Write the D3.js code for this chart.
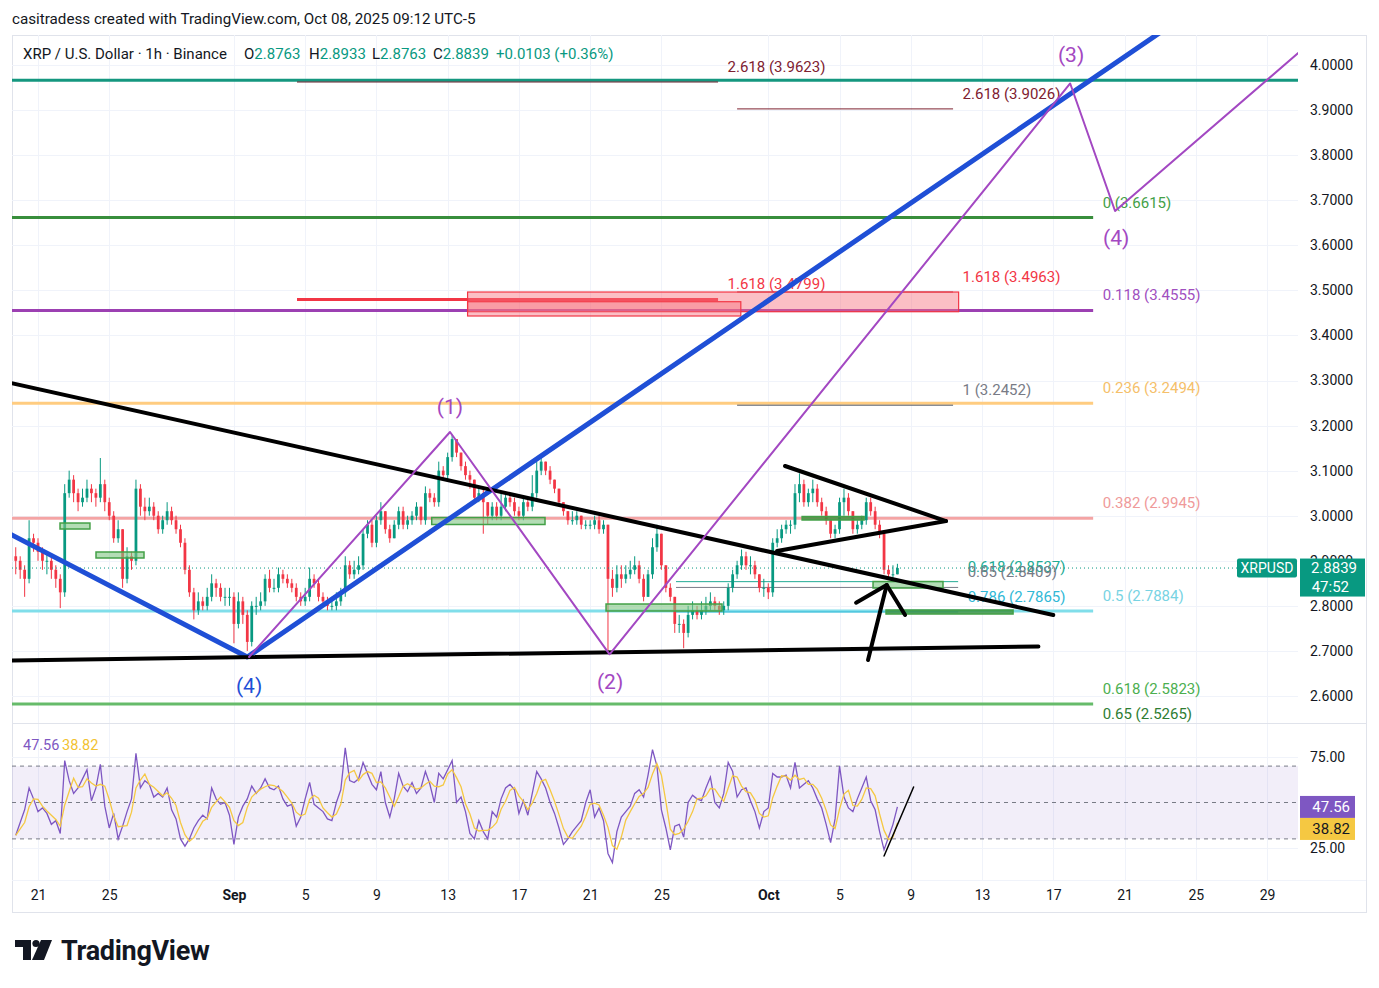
<!DOCTYPE html>
<html>
<head>
<meta charset="utf-8">
<script src="https://cdn.jsdelivr.net/npm/d3@7"></script>
<style>
  body { margin: 0; background: #ffffff; }
  svg { font-family: Roboto, "Liberation Sans", sans-serif; }
</style>
</head>
<body>
<svg id="chart" width="1379" height="988"></svg>
<script>
// ---- data (6h steps, starting Aug 19 18:00 UTC) ----
const candle_start = "2025-08-19T18:00";
const candle_hours = 6;
const first_open = 2.91;

const closes = [
  2.90,2.88,2.86,2.95,2.94,2.92,2.90,2.90,2.88,2.86,
  2.83,3.05,3.08,3.05,3.03,3.04,3.06,3.05,3.04,3.07,
  3.03,3.00,2.95,2.97,2.86,2.91,2.90,3.06,3.02,3.01,
  3.02,3.00,2.97,2.99,3.01,2.99,2.97,2.94,2.88,2.83,
  2.79,2.81,2.80,2.82,2.85,2.84,2.82,2.82,2.82,2.76,
  2.81,2.78,2.72,2.80,2.80,2.81,2.86,2.84,2.84,2.87,
  2.86,2.85,2.84,2.82,2.81,2.82,2.86,2.85,2.82,2.81,
  2.80,2.80,2.81,2.83,2.89,2.87,2.88,2.89,2.96,2.98,
  2.94,2.99,3.01,2.97,2.95,2.98,3.01,2.98,2.99,3.00,
  3.02,2.99,3.05,3.04,3.03,3.10,3.09,3.13,3.17,3.14,
  3.11,3.09,3.08,3.04,3.05,3.03,3.00,3.02,3.00,3.02,
  3.04,3.03,3.01,3.00,3.03,3.02,3.05,3.10,3.12,3.10,
  3.08,3.06,3.03,3.01,2.99,2.99,3.00,2.98,2.98,2.98,
  2.99,2.97,2.98,2.86,2.84,2.87,2.86,2.87,2.88,2.89,
  2.86,2.82,2.87,2.93,2.96,2.89,2.84,2.82,2.76,2.76,
  2.74,2.78,2.79,2.78,2.79,2.80,2.81,2.80,2.79,2.80,
  2.84,2.87,2.89,2.91,2.89,2.89,2.87,2.84,2.84,2.83,
  2.94,2.95,2.97,2.98,2.98,3.05,3.07,3.03,3.05,3.06,
  3.03,3.01,2.99,2.96,2.97,3.03,3.04,3.01,2.97,2.98,
  2.99,3.03,3.01,2.98,2.96,2.88,2.87,2.87,2.8839
];
const highs = [
  2.93,2.91,2.89,2.99,2.96,2.95,2.93,2.92,2.91,2.89,
  2.87,3.07,3.10,3.09,3.06,3.06,3.08,3.07,3.06,3.128,
  3.08,3.04,3.01,2.99,2.97,2.93,2.92,3.08,3.07,3.04,
  3.04,3.03,3.01,3.00,3.03,3.02,3.00,2.98,2.95,2.89,
  2.84,2.83,2.82,2.84,2.87,2.86,2.85,2.84,2.84,2.83,
  2.83,2.82,2.79,2.81,2.82,2.83,2.87,2.88,2.86,2.885,
  2.88,2.87,2.86,2.85,2.83,2.84,2.885,2.87,2.86,2.83,
  2.82,2.82,2.83,2.84,2.91,2.90,2.90,2.91,2.97,2.99,
  2.99,3.00,3.03,3.01,2.98,2.99,3.02,3.02,3.00,3.01,
  3.03,3.02,3.065,3.06,3.05,3.12,3.11,3.14,3.18,3.17,
  3.14,3.12,3.10,3.08,3.06,3.06,3.03,3.03,3.03,3.05,
  3.05,3.05,3.04,3.02,3.04,3.04,3.09,3.12,3.13,3.12,
  3.11,3.08,3.06,3.03,3.01,3.01,3.01,3.00,2.99,2.99,
  3.00,3.00,2.99,2.98,2.88,2.89,2.89,2.89,2.90,2.91,
  2.90,2.87,2.88,2.95,2.98,2.96,2.89,2.85,2.82,2.78,
  2.77,2.80,2.81,2.80,2.81,2.82,2.83,2.82,2.81,2.81,
  2.85,2.88,2.90,2.925,2.92,2.91,2.90,2.87,2.86,2.85,
  2.95,2.97,2.98,2.99,2.99,3.07,3.094,3.08,3.06,3.08,
  3.07,3.04,3.02,2.99,2.98,3.04,3.06,3.05,3.01,2.99,
  3.00,3.04,3.04,3.02,2.99,2.96,2.89,2.89,2.8933
];
const lows = [
  2.87,2.86,2.82,2.85,2.92,2.90,2.88,2.87,2.86,2.84,
  2.795,2.82,3.04,3.03,3.01,3.02,3.03,3.03,3.02,3.03,
  3.01,2.99,2.94,2.94,2.84,2.85,2.88,2.89,3.00,2.99,
  3.00,2.99,2.96,2.96,2.98,2.98,2.96,2.93,2.87,2.82,
  2.77,2.78,2.79,2.79,2.81,2.82,2.81,2.80,2.80,2.717,
  2.75,2.76,2.70,2.71,2.78,2.79,2.80,2.83,2.83,2.83,
  2.85,2.84,2.83,2.81,2.80,2.80,2.81,2.84,2.81,2.80,
  2.79,2.79,2.79,2.80,2.82,2.86,2.86,2.87,2.88,2.95,
  2.93,2.93,2.98,2.96,2.94,2.95,2.97,2.97,2.97,2.98,
  2.99,2.98,2.98,3.03,3.02,3.02,3.08,3.08,3.12,3.13,
  3.10,3.08,3.06,3.03,3.03,2.96,2.98,2.99,2.99,2.99,
  3.01,3.02,3.00,2.99,2.99,3.01,3.01,3.04,3.09,3.09,
  3.07,3.05,3.02,3.00,2.98,2.98,2.98,2.97,2.97,2.97,
  2.97,2.96,2.96,2.70,2.82,2.83,2.84,2.85,2.86,2.87,
  2.85,2.81,2.82,2.86,2.92,2.88,2.83,2.81,2.74,2.74,
  2.706,2.73,2.77,2.77,2.77,2.78,2.79,2.79,2.78,2.78,
  2.79,2.83,2.86,2.88,2.88,2.87,2.86,2.83,2.82,2.815,
  2.82,2.93,2.94,2.96,2.96,2.97,3.03,3.02,3.02,3.03,
  3.02,3.00,2.98,2.95,2.95,2.96,3.00,3.00,2.96,2.96,
  2.97,2.98,3.00,2.97,2.95,2.87,2.86,2.86,2.8763
];
const rsi_values = [
  32,39,46,58,52,45,47,44,38,40,
  33,73,62,55,58,63,68,51,58,71,
  48,36,44,30,37,45,52,77,58,62,
  60,53,55,53,58,46,41,30,26,30,
  36,40,43,41,58,52,49,50,43,27,
  42,48,52,59,55,58,63,58,57,59,
  52,48,49,37,42,52,61,49,47,45,
  41,40,50,57,80,62,61,63,72,66,
  60,57,67,50,42,52,66,59,56,61,
  55,58,67,60,50,66,63,68,73,50,
  53,45,33,30,40,34,30,45,42,52,
  58,60,57,44,51,43,55,67,63,58,
  50,44,36,27,30,34,37,40,50,57,
  42,47,40,22,17,34,42,45,48,55,
  57,53,65,79,70,46,36,24,37,38,
  31,50,54,52,51,58,64,50,47,55,
  72,67,53,57,58,51,45,36,45,47,
  66,64,64,65,58,72,58,60,62,58,
  52,47,38,28,41,70,53,47,45,52,
  58,64,51,46,34,24,30.9,38,47.56
];
const rsi_ma_length = 3;

const time_ticks = ["2025-08-21","2025-08-25","2025-09-01","2025-09-05","2025-09-09","2025-09-13",
  "2025-09-17","2025-09-21","2025-09-25","2025-10-01","2025-10-05","2025-10-09","2025-10-13",
  "2025-10-17","2025-10-21","2025-10-25","2025-10-29"];
const price_ticks = [2.6,2.7,2.8,2.9,3.0,3.1,3.2,3.3,3.4,3.5,3.6,3.7,3.8,3.9,4.0];
const rsi_ticks = [75, 25];
const rsi_levels = [70, 50, 30];

const legend_title = "XRP / U.S. Dollar · 1h · Binance";
const legend_keys = ["O", "H", "L", "C"];
const legend_values = ["2.8763", "2.8933", "2.8763", "2.8839"];
const legend_change = "+0.0103 (+0.36%)";
const countdown = "47:52";
const symbol_name = "XRPUSD";

// fib tools: ratio labels, prices, and the time span of each tool
const fib_main_ratios = ["0", "0.118", "0.236", "0.382", "0.5", "0.618", "0.65"];
const fib_main_prices = [3.6615, 3.4555, 3.2494, 2.9945, 2.7884, 2.5823, 2.5265];
const fib_main_span = ["2025-08-18T00:00", "2025-10-19T05:45"];
const fib_a_ratios = ["2.618", "1.618"];
const fib_a_prices = [3.9623, 3.4799];
const fib_a_span = ["2025-09-04T13:00", "2025-09-28T04:20"];
const fib_b_ratios = ["2.618", "1.618", "1"];
const fib_b_prices = [3.9026, 3.4963, 3.2452];
const fib_b_span = ["2025-09-29T06:00", "2025-10-11T09:00"];
const fib_c_ratios = ["0.618", "0.65", "0.786"];
const fib_c_prices = [2.8537, 2.8409, 2.7865];
const fib_c_span = ["2025-09-25T19:40", "2025-10-11T15:50"];
const resistance_price = 3.966;
const resistance_span = ["2025-08-18T00:00", "2025-11-01T00:00"];

// zones: [from, to, top, bottom]
const green_zones = [
  ["2025-08-22T05:40", "2025-08-23T22:00", 2.9838, 2.9705],
  ["2025-08-24T06:10", "2025-08-26T22:50", 2.9195, 2.9062],
  ["2025-09-12T02:30", "2025-09-18T11:10", 2.9960, 2.9805],
  ["2025-09-21T21:25", "2025-09-28T09:40", 2.8041, 2.7886],
  ["2025-10-02T21:35", "2025-10-06T09:10", 2.9982, 2.9905],
  ["2025-10-06T21:10", "2025-10-10T19:25", 2.8540, 2.8396],
  ["2025-10-07T14:40", "2025-10-14T17:50", 2.7908, 2.7819]
];
const red_zones = [
  ["2025-09-14T02:50", "2025-10-11T16:30", 3.4963, 3.4526],
  ["2025-09-14T02:50", "2025-09-29T11:00", 3.4748, 3.4431]
];

// trend lines: [time, price]
const blue_wedge = [["2025-08-19T12:00", 2.958], ["2025-09-01T18:00", 2.6865], ["2025-10-25T06:00", 4.133]];
const black_upper = [["2025-08-19T12:00", 3.2944], ["2025-10-17T00:00", 2.7797]];
const black_lower = [["2025-08-19T12:00", 2.679], ["2025-10-16T04:00", 2.710]];
const triangle_top = [["2025-10-01T22:36", 3.1103], ["2025-10-10T23:30", 2.9882]];
const triangle_bottom = [["2025-10-01T11:45", 2.9217], ["2025-10-10T23:30", 2.9882]];
const arrow_shaft = [["2025-10-06T14:24", 2.680], ["2025-10-07T15:36", 2.8462]];
const arrow_head = [["2025-10-05T22:19", 2.807], ["2025-10-07T15:36", 2.8462], ["2025-10-08T16:19", 2.7797]];
const wave_path = [["2025-09-01T20:24", 2.6865], ["2025-09-13T03:10", 3.1857], ["2025-09-22T02:10", 2.6925],
  ["2025-10-17T22:48", 3.959], ["2025-10-20T11:17", 3.676], ["2025-10-30T18:00", 4.0266]];
const wave_labels = [["(1)", "2025-09-13T03:10", 3.2412], ["(2)", "2025-09-22T02:50", 2.631],
  ["(3)", "2025-10-18T00:00", 4.0222], ["(4)", "2025-10-20T12:40", 3.6162]];
const blue_labels = [["(4)", "2025-09-01T20:24", 2.6221]];
const rsi_trend = [["2025-10-07T12:00", 20.6], ["2025-10-09T03:50", 58.5]];

// ---- layout and styles ----
const LAYOUT = {
  frame: {left: 12, top: 35, right: 1366, bottom: 912},
  pane: {left: 12, right: 1298, top: 35, bottom: 723},
  rsi: {top: 724, bottom: 880},
  time_axis_y: 895,
  label_gap: 9.5,
  label_lift: 10
};
const STYLE = {
  text: "#131722", grid: "#f0f3fa", border: "#e0e3eb",
  up: "#089981", down: "#f23645",
  blue: "#1f4fd6", purple_wave: "#a348c2", black: "#000000",
  rsi: "#7e57c2", rsi_ma: "#f5c842",
  font_small: 15, font_axis: 14
};
const FIB_MAIN_STYLE = [
  {line: "#388e3c", label: "#43a047", width: 3},
  {line: "#9c40b2", label: "#a04fc0", width: 3},
  {line: "#ffcc80", label: "#f5c06a", width: 3},
  {line: "#f4a4a4", label: "#ef9a9a", width: 3},
  {line: "#80deea", label: "#78d3e3", width: 3},
  {line: "#66bb6a", label: "#4caf50", width: 3},
  {line: "#2e7d32", label: "#2e7d32", width: 3}
];
const FIB_A_STYLE = [{line: "#5e1a25", label: "#7e2130", width: 1}, {line: "#f23645", label: "#f23645", width: 3}];
const FIB_B_STYLE = [{line: "#7e2130", label: "#7e2130", width: 1}, {line: "#a32a3a", label: "#f23645", width: 1},
  {line: "#555a66", label: "#787b86", width: 1}];
const FIB_C_STYLE = [{line: "#22ab94", label: "#22ab94", width: 1}, {line: "#787b86", label: "#787b86", width: 1},
  {line: "#30b8d6", label: "#30b8d6", width: 1}];

const parse_time = d3.utcParse("%Y-%m-%dT%H:%M");
const parse_day = d3.utcParse("%Y-%m-%d");

let svg, x, y, y_rsi, price_g, rsi_g;

init_svg();
draw_grid();
draw_levels();
draw_candles();
draw_drawings();
draw_rsi();
draw_axes();
draw_texts();

function init_svg() {
  svg = d3.select("#chart");
  x = d3.scaleUtc().domain([parse_day("2025-08-21"), parse_day("2025-10-29")]).range([38, 1267]);
  y = d3.scaleLinear().domain([2.6, 4.0]).range([696, 65]);
  y_rsi = d3.scaleLinear().domain([25, 75]).range([848, 757]);

  const defs = svg.append("defs");
  defs.append("clipPath").attr("id", "price_clip").append("rect")
    .attr("x", LAYOUT.pane.left).attr("y", LAYOUT.pane.top)
    .attr("width", LAYOUT.pane.right - LAYOUT.pane.left).attr("height", LAYOUT.pane.bottom - LAYOUT.pane.top);
  defs.append("clipPath").attr("id", "rsi_clip").append("rect")
    .attr("x", LAYOUT.pane.left).attr("y", LAYOUT.rsi.top)
    .attr("width", LAYOUT.pane.right - LAYOUT.pane.left).attr("height", LAYOUT.rsi.bottom - LAYOUT.rsi.top);

  svg.append("rect").attr("x", LAYOUT.frame.left + 0.5).attr("y", LAYOUT.frame.top + 0.5)
    .attr("width", LAYOUT.frame.right - LAYOUT.frame.left).attr("height", LAYOUT.frame.bottom - LAYOUT.frame.top)
    .attr("fill", "#fff").attr("stroke", STYLE.border);
}

function draw_grid() {
  const g = svg.append("g").attr("stroke", STYLE.grid).attr("stroke-width", 1);
  time_ticks.forEach(d => {
    const px = Math.round(x(parse_day(d))) + 0.5;
    g.append("line").attr("x1", px).attr("x2", px).attr("y1", LAYOUT.pane.top).attr("y2", LAYOUT.rsi.bottom);
  });
  price_ticks.forEach(p => {
    const py = Math.round(y(p)) + 0.5;
    g.append("line").attr("x1", LAYOUT.pane.left).attr("x2", LAYOUT.pane.right).attr("y1", py).attr("y2", py);
  });
  rsi_ticks.forEach(v => {
    const py = Math.round(y_rsi(v)) + 0.5;
    g.append("line").attr("x1", LAYOUT.pane.left).attr("x2", LAYOUT.pane.right).attr("y1", py).attr("y2", py);
  });
  svg.append("line").attr("x1", LAYOUT.frame.left).attr("x2", LAYOUT.frame.right)
    .attr("y1", LAYOUT.pane.bottom + 0.5).attr("y2", LAYOUT.pane.bottom + 0.5).attr("stroke", STYLE.border);
  svg.append("line").attr("x1", LAYOUT.frame.left).attr("x2", LAYOUT.frame.right)
    .attr("y1", LAYOUT.rsi.bottom + 0.5).attr("y2", LAYOUT.rsi.bottom + 0.5).attr("stroke", STYLE.grid);
}

function draw_fib(g, span, ratios, prices, styles) {
  const x0 = x(parse_time(span[0])), x1 = x(parse_time(span[1]));
  prices.forEach((p, i) => {
    g.append("line").attr("x1", x0).attr("x2", x1).attr("y1", y(p)).attr("y2", y(p))
      .attr("stroke", styles[i].line).attr("stroke-width", styles[i].width);
    g.append("text").attr("x", x1 + LAYOUT.label_gap).attr("y", y(p) - LAYOUT.label_lift)
      .attr("fill", styles[i].label).attr("font-size", STYLE.font_small)
      .text(`${ratios[i]} (${p.toFixed(4)})`);
  });
}

function draw_levels() {
  price_g = svg.append("g").attr("clip-path", "url(#price_clip)");
  const g = price_g.append("g");
  g.append("line")
    .attr("x1", x(parse_time(resistance_span[0]))).attr("x2", x(parse_time(resistance_span[1])))
    .attr("y1", y(resistance_price)).attr("y2", y(resistance_price))
    .attr("stroke", "#14977f").attr("stroke-width", 3);
  draw_fib(g, fib_main_span, fib_main_ratios, fib_main_prices, FIB_MAIN_STYLE);
  draw_fib(g, fib_a_span, fib_a_ratios, fib_a_prices, FIB_A_STYLE);
  draw_fib(g, fib_b_span, fib_b_ratios, fib_b_prices, FIB_B_STYLE);
  draw_fib(g, fib_c_span, fib_c_ratios, fib_c_prices, FIB_C_STYLE);
}

function draw_candles() {
  const t0 = parse_time(candle_start);
  const candles = closes.map((c, i) => {
    const o = i ? closes[i - 1] : first_open;
    return {
      t: d3.utcHour.offset(t0, i * candle_hours), o, c,
      h: Math.max(highs[i], o, c), l: Math.min(lows[i], o, c)
    };
  });
  const step = x(d3.utcHour.offset(t0, candle_hours)) - x(t0);
  const body_w = step * 0.62;
  const g = price_g.append("g").attr("class", "candles");
  const k = g.selectAll("g").data(candles).enter().append("g");
  k.append("line")
    .attr("x1", d => x(d.t)).attr("x2", d => x(d.t))
    .attr("y1", d => y(d.h)).attr("y2", d => y(d.l))
    .attr("stroke", d => d.c >= d.o ? STYLE.up : STYLE.down).attr("stroke-width", 1);
  k.append("rect")
    .attr("x", d => x(d.t) - body_w / 2).attr("width", body_w)
    .attr("y", d => y(Math.max(d.o, d.c)))
    .attr("height", d => Math.max(1, Math.abs(y(d.o) - y(d.c))))
    .attr("fill", d => d.c >= d.o ? STYLE.up : STYLE.down);

  // last price dotted line
  const last = closes[closes.length - 1];
  price_g.append("line").attr("x1", LAYOUT.pane.left).attr("x2", LAYOUT.pane.right)
    .attr("y1", y(last)).attr("y2", y(last))
    .attr("stroke", STYLE.up).attr("stroke-width", 1).attr("stroke-dasharray", "1,3");
}

function poly(g, points, color, width, scale_y) {
  const sy = scale_y || y;
  return g.append("path")
    .attr("d", d3.line().x(p => x(parse_time(p[0]))).y(p => sy(p[1]))(points))
    .attr("fill", "none").attr("stroke", color).attr("stroke-width", width)
    .attr("stroke-linecap", "round").attr("stroke-linejoin", "round");
}

function draw_drawings() {
  const g = price_g.append("g");
  red_zones.forEach(z => {
    g.append("rect").attr("x", x(parse_time(z[0]))).attr("y", y(z[2]))
      .attr("width", x(parse_time(z[1])) - x(parse_time(z[0]))).attr("height", y(z[3]) - y(z[2]))
      .attr("fill", "#f7707f").attr("fill-opacity", 0.45).attr("stroke", "#f23645").attr("stroke-width", 1.2);
  });
  green_zones.forEach((z, i) => {
    const dark = i === 4 || i === 6;
    g.append("rect").attr("x", x(parse_time(z[0]))).attr("y", y(z[2]))
      .attr("width", x(parse_time(z[1])) - x(parse_time(z[0]))).attr("height", y(z[3]) - y(z[2]))
      .attr("fill", dark ? "#388e3c" : "#81c784").attr("fill-opacity", dark ? 0.8 : 0.6)
      .attr("stroke", "#43a047").attr("stroke-width", 1.5);
  });
  poly(g, blue_wedge, STYLE.blue, 5);
  poly(g, black_upper, STYLE.black, 4);
  poly(g, black_lower, STYLE.black, 4);
  poly(g, triangle_top, STYLE.black, 4);
  poly(g, triangle_bottom, STYLE.black, 4);
  poly(g, wave_path, STYLE.purple_wave, 2);
  poly(g, arrow_shaft, STYLE.black, 4);
  poly(g, arrow_head, STYLE.black, 4);

  wave_labels.forEach(w => {
    g.append("text").attr("x", x(parse_time(w[1]))).attr("y", y(w[2]))
      .attr("text-anchor", "middle").attr("dominant-baseline", "central")
      .attr("font-size", 21).attr("fill", "#a348c2").text(w[0]);
  });
  blue_labels.forEach(w => {
    g.append("text").attr("x", x(parse_time(w[1]))).attr("y", y(w[2]))
      .attr("text-anchor", "middle").attr("dominant-baseline", "central")
      .attr("font-size", 21).attr("fill", "#1f4fd6").text(w[0]);
  });
}

function draw_rsi() {
  rsi_g = svg.append("g").attr("clip-path", "url(#rsi_clip)");
  rsi_g.append("rect").attr("x", LAYOUT.pane.left).attr("width", LAYOUT.pane.right - LAYOUT.pane.left)
    .attr("y", y_rsi(70)).attr("height", y_rsi(30) - y_rsi(70))
    .attr("fill", STYLE.rsi).attr("fill-opacity", 0.1);
  rsi_levels.forEach(v => {
    rsi_g.append("line").attr("x1", LAYOUT.pane.left).attr("x2", LAYOUT.pane.right)
      .attr("y1", y_rsi(v)).attr("y2", y_rsi(v))
      .attr("stroke", "#787b86").attr("stroke-dasharray", "4,4").attr("stroke-width", 1);
  });
  const t0 = parse_time(candle_start);
  const pts = rsi_values.map((v, i) => ({t: d3.utcHour.offset(t0, i * candle_hours), v}));
  const ma = pts.map((p, i) => ({t: p.t,
    v: d3.mean(rsi_values.slice(Math.max(0, i - rsi_ma_length + 1), i + 1))}));
  const line = d3.line().x(p => x(p.t)).y(p => y_rsi(p.v));
  rsi_g.append("path").attr("d", line(pts)).attr("fill", "none")
    .attr("stroke", STYLE.rsi).attr("stroke-width", 1.3);
  rsi_g.append("path").attr("d", line(ma)).attr("fill", "none")
    .attr("stroke", STYLE.rsi_ma).attr("stroke-width", 1.3);
  poly(rsi_g, rsi_trend, STYLE.black, 1.5, y_rsi);

  // value tags on the RSI scale
  const last_rsi = rsi_values[rsi_values.length - 1];
  const last_ma = ma[ma.length - 1].v;
  const y1 = y_rsi(last_rsi);
  const y2 = Math.max(y_rsi(last_ma), y1 + 22);
  [[y1, STYLE.rsi, "#fff", last_rsi], [y2, STYLE.rsi_ma, STYLE.text, last_ma]].forEach(r => {
    svg.append("rect").attr("x", 1300).attr("y", r[0] - 11).attr("width", 55).attr("height", 22).attr("fill", r[1]);
    svg.append("text").attr("x", 1350).attr("y", r[0]).attr("dy", "0.35em").attr("text-anchor", "end")
      .attr("font-size", STYLE.font_small).attr("fill", r[2]).text(r[3].toFixed(2));
  });
  svg.append("text").attr("x", 23).attr("y", 750).attr("font-size", 14.5).attr("fill", STYLE.rsi).text(last_rsi.toFixed(2));
  svg.append("text").attr("x", 62).attr("y", 750).attr("font-size", 14.5).attr("fill", "#f2c230").text(last_ma.toFixed(2));
}

function style_axis(g) {
  g.select(".domain").remove();
  g.selectAll(".tick line").remove();
  g.attr("font-family", null).attr("font-size", STYLE.font_axis);
  g.selectAll("text").attr("fill", STYLE.text);
}

function draw_axes() {
  const x_axis = d3.axisBottom(x).tickValues(time_ticks.map(parse_day)).tickSize(0).tickPadding(0)
    .tickFormat(d => d.getUTCDate() === 1 ? d3.utcFormat("%b")(d) : d.getUTCDate());
  const gx = svg.append("g").attr("transform", `translate(0,${LAYOUT.time_axis_y})`).call(x_axis);
  style_axis(gx);
  gx.selectAll("text").attr("y", 0).attr("dy", "0.35em")
    .attr("font-weight", d => d.getUTCDate() === 1 ? 700 : 400);

  const gy = svg.append("g").attr("transform", `translate(${LAYOUT.pane.right},0)`)
    .call(d3.axisRight(y).tickValues(price_ticks).tickSize(0).tickPadding(12).tickFormat(d3.format(".4f")));
  style_axis(gy);

  const gr = svg.append("g").attr("transform", `translate(${LAYOUT.pane.right},0)`)
    .call(d3.axisRight(y_rsi).tickValues(rsi_ticks).tickSize(0).tickPadding(12).tickFormat(d3.format(".2f")));
  style_axis(gr);

  // last price tags
  const last = closes[closes.length - 1];
  const py = y(last);
  svg.append("rect").attr("x", 1237).attr("y", py - 9.5).attr("width", 60).attr("height", 19).attr("rx", 2).attr("fill", STYLE.up);
  svg.append("text").attr("x", 1267).attr("y", py).attr("dy", "0.35em").attr("text-anchor", "middle")
    .attr("font-size", 14).attr("fill", "#fff").text(symbol_name);
  svg.append("rect").attr("x", 1300).attr("y", py - 9.5).attr("width", 65).attr("height", 38).attr("fill", STYLE.up);
  svg.append("text").attr("x", 1357).attr("y", py).attr("dy", "0.35em").attr("text-anchor", "end")
    .attr("font-size", STYLE.font_small).attr("fill", "#fff").text(last.toFixed(4));
  svg.append("text").attr("x", 1349).attr("y", py + 19).attr("dy", "0.35em").attr("text-anchor", "end")
    .attr("font-size", STYLE.font_small).attr("fill", "#fff").text(countdown);
}

function draw_texts() {
  svg.append("text").attr("x", 12).attr("y", 24).attr("font-size", 15.2).attr("fill", STYLE.text)
    .text("casitradess created with TradingView.com, Oct 08, 2025 09:12 UTC-5");

  const lg = svg.append("g").attr("font-size", STYLE.font_small);
  lg.append("text").attr("x", 23).attr("y", 59).attr("fill", STYLE.text).text(legend_title);
  const key_x = [244, 309, 372, 433];
  legend_keys.forEach((k, i) => {
    const t = lg.append("text").attr("x", key_x[i]).attr("y", 59).attr("fill", STYLE.text);
    t.append("tspan").text(k);
    t.append("tspan").attr("fill", STYLE.up).text(legend_values[i]);
  });
  lg.append("text").attr("x", 496).attr("y", 59).attr("fill", STYLE.up).text(legend_change);

  // TradingView watermark
  const logo = svg.append("g").attr("fill", STYLE.text);
  logo.append("path").attr("d", "M15 940 H31 V960 H23 V947 H15 Z");
  logo.append("circle").attr("cx", 36).attr("cy", 943.5).attr("r", 3.6);
  logo.append("path").attr("d", "M41 940 H52 L44 960 H32 Z");
  logo.append("text").attr("x", 61).attr("y", 960).attr("font-size", 27).attr("font-weight", 700)
    .attr("letter-spacing", -0.3).text("TradingView");
}
</script>
</body>
</html>
